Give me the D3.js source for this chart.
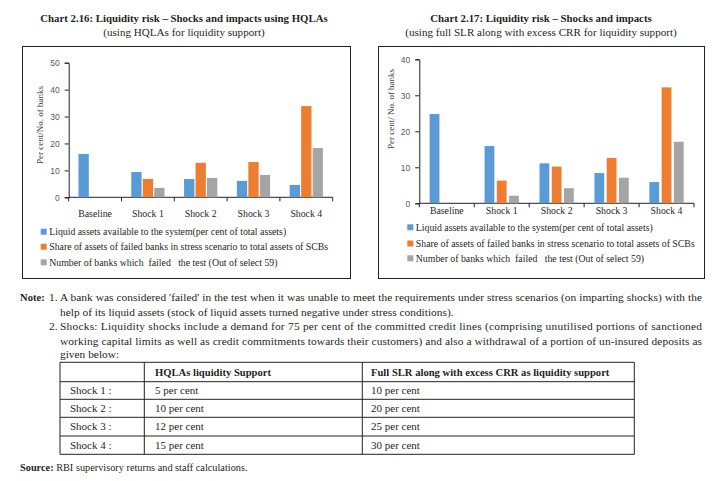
<!DOCTYPE html>
<html>
<head>
<meta charset="utf-8">
<script src="https://cdn.jsdelivr.net/npm/d3@7"></script>
<style>
  body { margin: 0; background: #fff; }
  svg { display: block; font-family: 'Liberation Serif', serif; }
</style>
</head>
<body>
<div id="chart"></div>
<script>
const categories = ['Baseline', 'Shock 1', 'Shock 2', 'Shock 3', 'Shock 4'];
const seriesNames = [
  'Liquid assets available to the system(per cent of total assets)',
  'Share of assets of failed banks in stress scenario to total assets of SCBs',
  'Number of banks which  failed   the test (Out of select 59)'
];
const colors = ['#5b9bd5', '#ed7d31', '#a5a5a5'];

// Chart 2.16 (HQLAs)
const hqlaLiquid = [16.1, 9.4, 6.8, 6.1, 4.6];
const hqlaShare = [null, 6.8, 12.8, 13.1, 33.9];
const hqlaFailed = [null, 3.5, 7.2, 8.3, 18.3];
const hqlaTicks = [0, 10, 20, 30, 40, 50];

// Chart 2.17 (full SLR + excess CRR)
const slrLiquid = [24.8, 15.9, 11.1, 8.4, 5.9];
const slrShare = [null, 6.3, 10.2, 12.6, 32.2];
const slrFailed = [null, 2.1, 4.2, 7.1, 17.1];
const slrTicks = [0, 10, 20, 30, 40];

// table under the notes
const shockRows = ['Shock 1 :', 'Shock 2 :', 'Shock 3 :', 'Shock 4 :'];
const hqlaSupport = ['5 per cent', '10 per cent', '12 per cent', '15 per cent'];
const slrSupport = ['10 per cent', '20 per cent', '25 per cent', '30 per cent'];
const tableHead = ['', 'HQLAs liquidity Support', 'Full SLR along with excess CRR as liquidity support'];

const W = 715, H = 481;
const ink = '#231f20';

const svg = d3.select('#chart').append('svg')
  .attr('width', W).attr('height', H)
  .attr('viewBox', `0 0 ${W} ${H}`);

function drawChart(o) {
  const g = svg.append('g');

  // titles
  g.append('text').attr('x', o.cx).attr('y', 21.5).attr('text-anchor', 'middle')
    .attr('font-weight', 'bold').attr('font-size', 10.8).attr('fill', ink).text(o.title);
  g.append('text').attr('x', o.cx).attr('y', 35.5).attr('text-anchor', 'middle')
    .attr('font-size', 11.1).attr('fill', ink).text(o.subtitle);

  // frame
  g.append('rect').attr('x', o.box[0]).attr('y', 46.5)
    .attr('width', o.box[1] - o.box[0]).attr('height', 232)
    .attr('fill', 'none').attr('stroke', '#222').attr('stroke-width', 1);

  const x = d3.scaleBand().domain(categories).range(o.xr);
  const inner = d3.scaleBand().domain([0, 1, 2])
    .range([x.bandwidth() * o.pad, x.bandwidth() * (1 - o.pad)])
    .paddingInner(o.gap);
  const y = d3.scaleLinear().domain([0, d3.max(o.ticks)]).range(o.yr);

  // y axis
  const ya = g.append('g').attr('transform', `translate(${o.xr[0]},0)`)
    .call(d3.axisLeft(y).tickValues(o.ticks).tickSize(4).tickPadding(5));
  ya.select('.domain').attr('stroke', '#222');
  ya.selectAll('.tick line').attr('stroke', '#222');
  ya.selectAll('.tick text').attr('font-family', 'Liberation Sans, sans-serif')
    .attr('font-size', 8.5).attr('fill', '#595959');

  // x axis line with boundary ticks
  g.append('line').attr('x1', o.xr[0]).attr('x2', o.xr[1])
    .attr('y1', y(0)).attr('y2', y(0)).attr('stroke', '#222');
  g.selectAll('.xt').data(categories.concat(['end'])).join('line')
    .attr('x1', (d, i) => i < categories.length ? x(d) : o.xr[1])
    .attr('x2', (d, i) => i < categories.length ? x(d) : o.xr[1])
    .attr('y1', y(0)).attr('y2', y(0) + 4).attr('stroke', '#222');

  g.selectAll('.xl').data(categories).join('text')
    .attr('x', d => x(d) + x.bandwidth() / 2)
    .attr('y', y(0) + o.labelDy)
    .attr('text-anchor', 'middle').attr('font-size', 9.8).attr('fill', ink)
    .text(d => d);

  // y title
  g.append('text')
    .attr('transform', `translate(${o.ytx},${o.yty}) rotate(-90)`)
    .attr('text-anchor', 'middle').attr('font-size', 9).attr('fill', '#404040')
    .text(o.ylabel);

  // bars
  o.series.forEach((vals, s) => {
    g.append('g').selectAll('rect')
      .data(categories.map((c, i) => ({ c, v: vals[i] })).filter(d => d.v != null))
      .join('rect')
      .attr('x', d => x(d.c) + inner(s))
      .attr('width', inner.bandwidth())
      .attr('y', d => y(d.v))
      .attr('height', d => y(0) - y(d.v))
      .attr('fill', colors[s]);
  });

  // legend
  const lg = g.append('g');
  seriesNames.forEach((n, i) => {
    const ly = o.legY[i];
    lg.append('rect').attr('x', o.legX).attr('y', ly - 3).attr('width', 6).attr('height', 6).attr('fill', colors[i]);
    lg.append('text').attr('x', o.legX + 8.5).attr('y', ly + 3.3).attr('font-size', 9.8)
      .attr('fill', ink).attr('xml:space', 'preserve').text(n);
  });
}

drawChart({
  title: 'Chart 2.16: Liquidity risk \u2013 Shocks and impacts using HQLAs',
  subtitle: '(using HQLAs for liquidity support)',
  cx: 184, box: [22.5, 350.5],
  xr: [68.7, 332.7], yr: [197.3, 62.7], ticks: hqlaTicks,
  pad: 0.185, gap: 0.1, labelDy: 20,
  series: [hqlaLiquid, hqlaShare, hqlaFailed],
  ylabel: 'Per cent/No. of banks', ytx: 43, yty: 125,
  legX: 40.7, legY: [231.7, 246.7, 262.3]
});

drawChart({
  title: 'Chart 2.17: Liquidity risk \u2013 Shocks and impacts',
  subtitle: '(using full SLR along with excess CRR for liquidity support)',
  cx: 541, box: [378.5, 704.5],
  xr: [419.3, 694], yr: [203.3, 59.3], ticks: slrTicks,
  pad: 0.188, gap: 0.2, labelDy: 11,
  series: [slrLiquid, slrShare, slrFailed],
  ylabel: 'Per cent/ No. of banks', ytx: 394, yty: 109,
  legX: 407.3, legY: [227.3, 243.5, 258.3]
});

// notes
const notes = svg.append('g').attr('font-size', 11.4).attr('fill', ink);
notes.append('text').attr('x', 20).attr('y', 301).attr('font-weight', 'bold')
  .attr('font-size', 10.6).text('Note:');
notes.append('text').attr('x', 49).attr('y', 301).text('1.');
notes.append('text').attr('x', 49).attr('y', 330).text('2.');
const noteLines = [
  { t: "A bank was considered 'failed' in the test when it was unable to meet the requirements under stress scenarios (on imparting shocks) with the", y: 301, j: true },
  { t: 'help of its liquid assets (stock of liquid assets turned negative under stress conditions).', y: 315.6, j: false },
  { t: 'Shocks: Liquidity shocks include a demand for 75 per cent of the committed credit lines (comprising unutilised portions of sanctioned', y: 330, j: true },
  { t: 'working capital limits as well as credit commitments towards their customers) and also a withdrawal of a portion of un-insured deposits as', y: 344.5, j: true },
  { t: 'given below:', y: 358, j: false }
];
noteLines.forEach(l => {
  const t = notes.append('text').attr('x', 60).attr('y', l.y).text(l.t);
  if (l.j) t.attr('textLength', 642).attr('lengthAdjust', 'spacing');
});

// table
const colX = [60, 144.3, 362.3, 634.3];
const rowY = [362.3, 381.7, 399.3, 417.3, 436, 454.3];
const pad = [10, 10.7, 8.7];
const tbl = svg.append('g');
rowY.forEach(yy => tbl.append('line').attr('x1', colX[0]).attr('x2', colX[3])
  .attr('y1', yy).attr('y2', yy).attr('stroke', '#222'));
colX.forEach(xx => tbl.append('line').attr('x1', xx).attr('x2', xx)
  .attr('y1', rowY[0]).attr('y2', rowY[rowY.length - 1]).attr('stroke', '#222'));
tableHead.forEach((h, i) => {
  tbl.append('text').attr('x', colX[i] + pad[i]).attr('y', (rowY[0] + rowY[1]) / 2 + 3.8)
    .attr('font-size', 10.6).attr('font-weight', 'bold').attr('fill', ink).text(h);
});
shockRows.forEach((s, r) => {
  const yy = (rowY[r + 1] + rowY[r + 2]) / 2 + 3.8;
  [s, hqlaSupport[r], slrSupport[r]].forEach((v, i) => {
    tbl.append('text').attr('x', colX[i] + pad[i]).attr('y', yy)
      .attr('font-size', 11).attr('fill', ink).text(v);
  });
});

// source
const src = svg.append('text').attr('x', 20).attr('y', 471).attr('font-size', 10.3).attr('fill', ink);
src.append('tspan').attr('font-weight', 'bold').text('Source:');
src.append('tspan').text(' RBI supervisory returns and staff calculations.');
</script>
</body>
</html>
